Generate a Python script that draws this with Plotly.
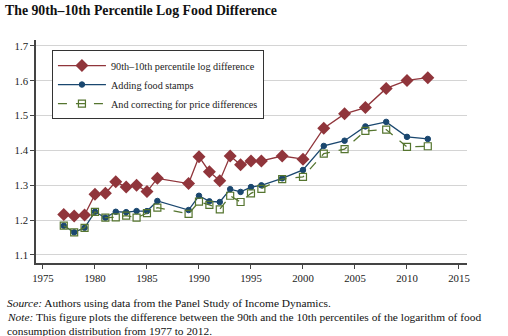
import plotly.graph_objects as go

# PSID survey years with food consumption data
years = [1977, 1978, 1979, 1980, 1981, 1982, 1983, 1984, 1985, 1986,
         1989, 1990, 1991, 1992, 1993, 1994, 1995, 1996, 1998, 2000,
         2002, 2004, 2006, 2008, 2010, 2012]

# 90th-10th percentile log food difference
log_diff = [1.216, 1.212, 1.215, 1.274, 1.277, 1.310, 1.295, 1.300, 1.282, 1.320,
            1.305, 1.382, 1.339, 1.313, 1.384, 1.359, 1.370, 1.370, 1.384, 1.375,
            1.464, 1.505, 1.523, 1.578, 1.601, 1.609]

# Adding food stamps
with_stamps = [1.184, 1.165, 1.178, 1.224, 1.207, 1.224, 1.223, 1.226, 1.226, 1.255,
               1.229, 1.270, 1.254, 1.252, 1.289, 1.281, 1.295, 1.300, 1.320, 1.344,
               1.413, 1.428, 1.469, 1.482, 1.439, 1.433]

# And correcting for price differences
price_adj = [1.184, 1.165, 1.178, 1.224, 1.207, 1.208, 1.213, 1.207, 1.220, 1.236,
             1.218, 1.253, 1.244, 1.231, 1.270, 1.252, 1.277, 1.290, 1.318, 1.324,
             1.391, 1.404, 1.456, 1.460, 1.410, 1.412]

series_names = ["90th–10th percentile log difference",
                "Adding food stamps",
                "And correcting for price differences"]

x_ticks = [1975, 1980, 1985, 1990, 1995, 2000, 2005, 2010, 2015]
y_ticks = [1.1, 1.2, 1.3, 1.4, 1.5, 1.6, 1.7]

MAROON = "#90353b"
NAVY = "#1a476f"
FOREST = "#55752f"
SERIF = "Liberation Serif"

fig = go.Figure()
fig.add_trace(go.Scatter(
    x=years, y=log_diff, name=series_names[0], mode="lines+markers",
    line=dict(color=MAROON, width=1.3),
    marker=dict(symbol="diamond", size=10, color=MAROON),
))
fig.add_trace(go.Scatter(
    x=years, y=with_stamps, name=series_names[1], mode="lines+markers",
    line=dict(color=NAVY, width=1.3),
    marker=dict(symbol="circle", size=5.5, color=NAVY,
                line=dict(color=NAVY, width=1)),
))
fig.add_trace(go.Scatter(
    x=years, y=price_adj, name=series_names[2], mode="lines+markers",
    line=dict(color=FOREST, width=1.3, dash="dash"),
    marker=dict(symbol="square-open", size=7, color=FOREST,
                line=dict(color=FOREST, width=1.2)),
))

axis_color = "#444444"
fig.update_xaxes(
    range=[1974.33, 2015.77], tickvals=x_ticks, ticks="outside", ticklen=4,
    tickwidth=1.2, tickcolor=axis_color, showline=True, linecolor=axis_color,
    linewidth=1.5, showgrid=False, zeroline=False,
    tickfont=dict(family=SERIF, size=10.8, color="#222222"),
)
fig.update_yaxes(
    range=[1.077, 1.717], tickvals=y_ticks, tickformat=".1f", ticks="outside",
    ticklen=4, tickwidth=1.2, tickcolor=axis_color, showline=True,
    linecolor=axis_color, linewidth=1.5, showgrid=True, gridcolor="#d4d4d4",
    gridwidth=1, zeroline=False,
    tickfont=dict(family=SERIF, size=10.8, color="#222222"),
)

caption_font = dict(family=SERIF, size=11.4, color="#111111")

fig.update_layout(
    width=508, height=336,
    margin=dict(l=36, r=41, t=40, b=73),
    paper_bgcolor="white", plot_bgcolor="white",
    showlegend=True,
    legend=dict(
        x=0.037, y=0.955, xanchor="left", yanchor="top",
        bgcolor="white", bordercolor="#333333", borderwidth=1,
        itemwidth=48,
        font=dict(family=SERIF, size=10.2, color="#222222"),
    ),
    annotations=[
        dict(text="<b>The 90th–10th Percentile Log Food Difference</b>",
             xref="paper", yref="paper", x=-33/431, y=(336-73-10)/223,
             xanchor="left", yanchor="middle", showarrow=False,
             font=dict(family=SERIF, size=13.8, color="#111111")),
        dict(text="<i>Source:</i> Authors using data from the Panel Study of Income Dynamics.",
             xref="paper", yref="paper", x=-31/431, y=-(303-263)/223,
             xanchor="left", yanchor="middle", showarrow=False,
             font=caption_font),
        dict(text="<i>Note:</i> This figure plots the difference between the 90th and the 10th percentiles of the logarithm of food",
             xref="paper", yref="paper", x=-31/431, y=-(317-263)/223,
             xanchor="left", yanchor="middle", showarrow=False,
             font=caption_font),
        dict(text="consumption distribution from 1977 to 2012.",
             xref="paper", yref="paper", x=-31/431, y=-(331-263)/223,
             xanchor="left", yanchor="middle", showarrow=False,
             font=caption_font),
    ],
)

fig.write_html("out.html")
